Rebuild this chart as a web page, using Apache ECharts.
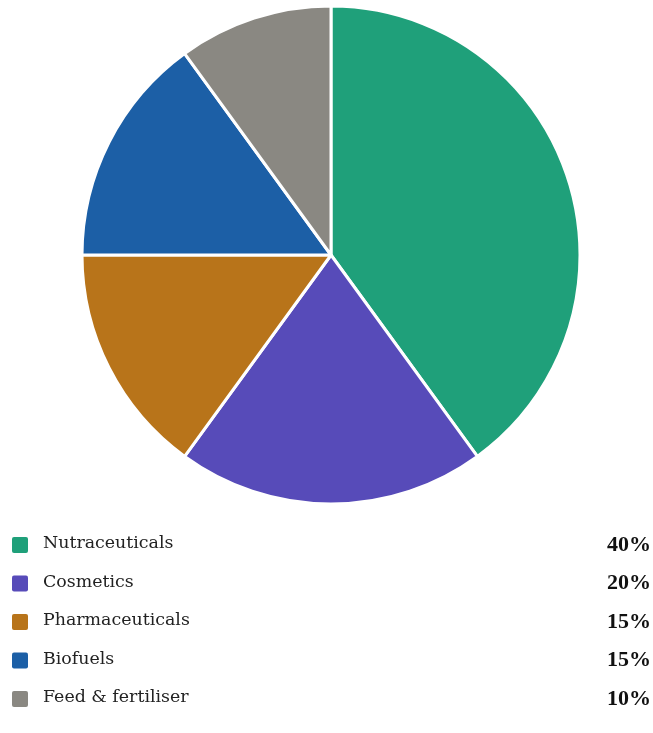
<!DOCTYPE html>
<html>
<head>
<meta charset="utf-8">
<script src="https://cdn.jsdelivr.net/npm/echarts@6/dist/echarts.min.js"></script>
<style>html,body{margin:0;padding:0;background:#fff;}#c{width:653px;height:733px;}</style>
</head>
<body>
<div id="c"></div>
<script>
const categories = ['Nutraceuticals', 'Cosmetics', 'Pharmaceuticals', 'Biofuels', 'Feed & fertiliser'];
const values = [40, 20, 15, 15, 10];
const colors = ['#1fa07a', '#574bb9', '#b8741a', '#1c5fa6', '#8a8882'];

const chart = echarts.init(document.getElementById('c'), null, {renderer: 'canvas'});
const graphics = [];
categories.forEach((name, i) => {
  const cy = 545 + i * 38.5;
  graphics.push({type: 'rect', left: 12, top: cy - 8, shape: {width: 16, height: 16, r: 2}, style: {fill: colors[i]}});
  graphics.push({type: 'text', left: 43, top: cy - 10, style: {text: name, font: '17.4px "DejaVu Serif"', fill: '#222', textVerticalAlign: 'top'}});
  graphics.push({type: 'text', right: 2, top: cy - 11, style: {text: values[i] + '%', font: 'bold 22px "Liberation Serif"', fill: '#111', textVerticalAlign: 'top'}});
});
chart.setOption({
  animation: false,
  series: [{
    type: 'pie',
    center: [331, 255],
    radius: [0, 249],
    startAngle: 90,
    clockwise: true,
    label: {show: false},
    labelLine: {show: false},
    itemStyle: {borderColor: '#fff', borderWidth: 3},
    emphasis: {disabled: true},
    data: categories.map((n, i) => ({name: n, value: values[i], itemStyle: {color: colors[i]}}))
  }],
  graphic: graphics
});
</script>
</body>
</html>
